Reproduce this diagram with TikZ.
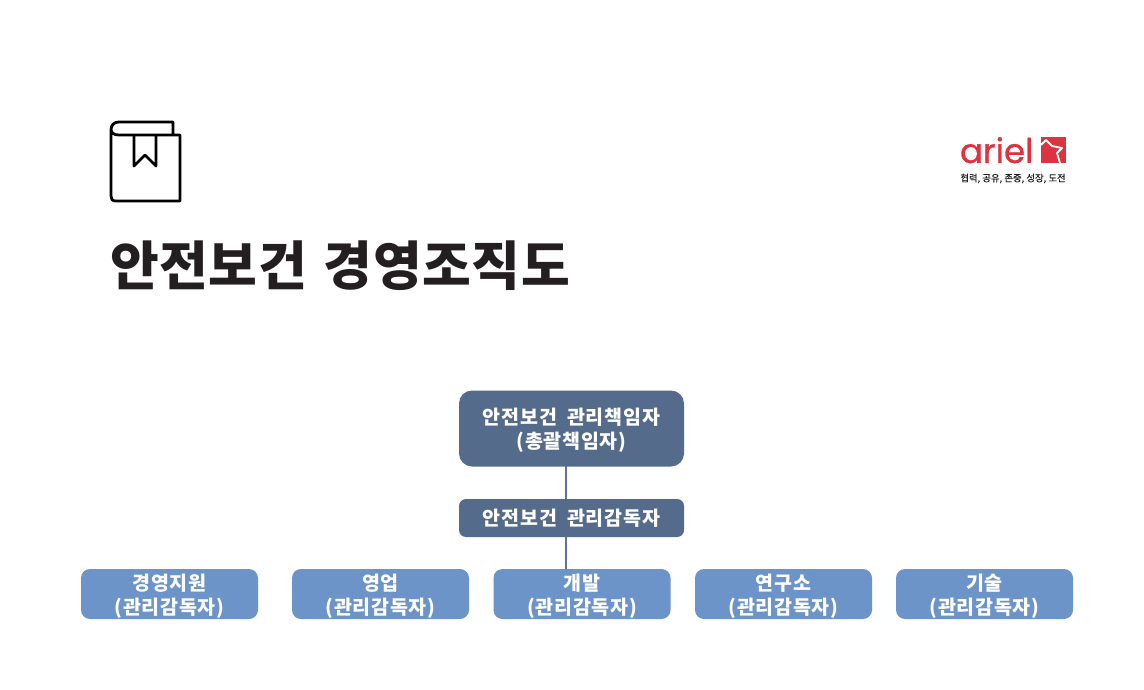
\documentclass[tikz,border=0pt]{standalone}
\usepackage{fontspec}
\setmainfont{Noto Sans CJK KR}
\newfontfamily\logofont[FakeBold=0.8]{Poppins}
\newfontfamily\boxfont[LetterSpace=4]{Noto Sans CJK KR}
\newfontfamily\titlefont[LetterSpace=1.2]{Noto Sans CJK KR}
\newfontfamily\mottofont[FakeBold=0.6]{Noto Sans CJK KR}
\definecolor{darkbox}{HTML}{556B8C}
\definecolor{lightbox}{HTML}{6C94C8}
\definecolor{linkc}{HTML}{5D7199}
\definecolor{logored}{HTML}{DD323F}
\definecolor{inkc}{HTML}{231F20}
\tikzset{
  every node/.style={inner sep=0pt,outer sep=0pt},
  boxtext/.style={text=white,align=center,font=\boxfont\fontsize{19.5}{24}\selectfont\bfseries},
  topbox/.style={boxtext,fill=darkbox,rounded corners=13pt,minimum width=225pt,minimum height=76pt,text depth=0pt},
  midbox/.style={boxtext,fill=darkbox,rounded corners=7pt,minimum width=225pt,minimum height=38pt},
  leafbox/.style={boxtext,fill=lightbox,rounded corners=9pt,minimum width=177pt,minimum height=50pt,text depth=0pt},
  link/.style={draw=linkc,line width=1.4pt},
  iconline/.style={draw=black,line width=2.8pt,line join=round}
}
\begin{document}
\begin{tikzpicture}[x=1pt,y=-1pt]
\useasboundingbox (0,0) rectangle (1144,690);
% book icon
\draw[iconline] (173,134) -- (173,122) -- (119,122) .. controls (114,122) and (111,125) .. (111,130) -- (111,196) .. controls (111,199) and (112,201) .. (116,201) -- (180,201) -- (180,135) -- (119,135) .. controls (114,135) and (111,133) .. (111,129);
\draw[iconline] (134,136) -- (134,166) -- (145,155) -- (156,166) -- (156,136);
% title
\node[anchor=west,text=inkc,font=\titlefont\fontsize{53}{60}\selectfont\bfseries] (title) at (110,266) {안전보건\hspace{4pt} 경영조직도};
% logo
\node[anchor=base west,text=logored,font=\logofont\fontsize{34}{34}\selectfont] (logo) at (960,163) {ariel};
\fill[logored] (1041,137) rectangle (1066,163);
\draw[white,line width=1.8pt,line join=round] (1041,145) -- (1046,140) -- (1052,146) -- (1062,148) -- (1057,153) -- (1060,163);
\node[text=inkc,font=\mottofont\fontsize{9.4}{11}\selectfont] (motto) at (1013,178.5) {협력, 공유, 존중, 성장, 도전};
% chart
\node[topbox] (top) at (571.5,428.5) {안전보건\hspace{5pt} 관리책임자\\(총괄책임자)};
\node[midbox] (mid) at (571.5,518) {안전보건\hspace{5pt} 관리감독자};
\node[leafbox] (a) at (169.5,594) {경영지원\\(관리감독자)};
\node[leafbox] (b) at (380.5,594) {영업\\(관리감독자)};
\node[leafbox] (c) at (582,594) {개발\\(관리감독자)};
\node[leafbox] (d) at (783.5,594) {연구소\\(관리감독자)};
\node[leafbox] (e) at (984.5,594) {기술\\(관리감독자)};
\coordinate (ttop) at (566,466);
\coordinate (mtop) at (566,499);
\coordinate (mbot) at (566,537);
\coordinate (ctop) at (566,569);
\draw[link] (ttop) -- (mtop);
\draw[link] (mbot) -- (ctop);
\end{tikzpicture}
\end{document}
